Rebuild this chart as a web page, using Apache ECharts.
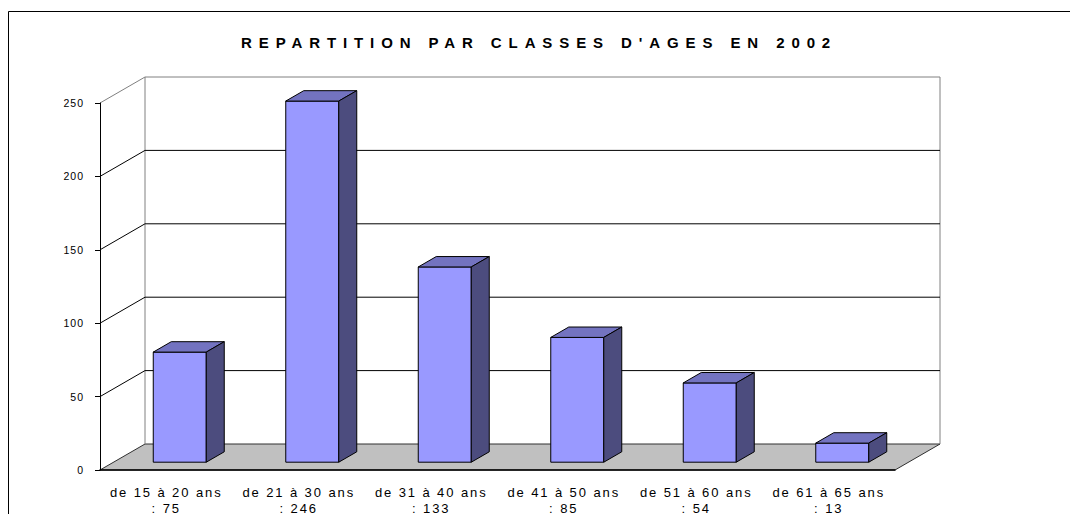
<!DOCTYPE html>
<html>
<head>
  <meta charset="utf-8">
  <title>Repartition par classes d'ages en 2002</title>
  <script src="https://cdn.jsdelivr.net/npm/echarts@6/dist/echarts.min.js"></script>
  <style>
    html, body { margin: 0; padding: 0; background: #fff; }
  </style>
</head>
<body>
  <div id="chart" style="width: 1070px; height: 514px;"></div>

  <script>
    // données
    const titleText = "REPARTITION PAR CLASSES D'AGES EN 2002";
    const categories = ['de 15 à 20 ans', 'de 21 à 30 ans', 'de 31 à 40 ans', 'de 41 à 50 ans', 'de 51 à 60 ans', 'de 61 à 65 ans'];
    const values = [75, 246, 133, 85, 54, 13];
    const yTicks = [0, 50, 100, 150, 200, 250];

    // profondeur de l'effet 3D (pixels)
    const DX = 45, DY = 26;
    const font = '"Liberation Sans", Arial, sans-serif';

    const chart = echarts.init(document.getElementById('chart'), null, { renderer: 'svg' });

    // murs + sol + quadrillage
    function renderWall(params, api) {
      const cs = params.coordSys;
      const v = api.value(1);
      const y = api.coord([0, v])[1];
      const x0 = cs.x, x1 = cs.x + cs.width;
      const children = [];
      if (v === 0) {
        const yt = api.coord([0, yTicks[yTicks.length - 1]])[1];
        children.push({
          type: 'polygon',
          shape: { points: [[x0, y], [x1, y], [x1 + DX, y - DY], [x0 + DX, y - DY]] },
          style: { fill: '#c0c0c0', stroke: '#303030', lineWidth: 1 }
        });
        children.push({ type: 'line', shape: { x1: x0 + DX, y1: y - DY, x2: x0 + DX, y2: yt - DY }, style: { stroke: '#808080', lineWidth: 1 } });
        children.push({ type: 'line', shape: { x1: x1 + DX, y1: y - DY, x2: x1 + DX, y2: yt - DY }, style: { stroke: '#808080', lineWidth: 1 } });
      } else {
        const col = v === yTicks[yTicks.length - 1] ? '#808080' : '#000';
        children.push({ type: 'line', shape: { x1: x0, y1: y, x2: x0 + DX, y2: y - DY }, style: { stroke: col, lineWidth: 1 } });
        children.push({ type: 'line', shape: { x1: x0 + DX, y1: y - DY, x2: x1 + DX, y2: y - DY }, style: { stroke: col, lineWidth: 1 } });
      }
      return { type: 'group', children: children };
    }

    // barres 3D
    function renderBar(params, api) {
      const i = api.value(0);
      const base = api.coord([i, 0]);
      const top = api.coord([i, api.value(1)]);
      const band = api.size([1, 0])[0];
      const w = band * 0.4;
      const ox = DX * 0.3, oy = DY * 0.3;   // recul de la face avant
      const dx = DX * 0.4, dy = DY * 0.4;   // épaisseur de la barre
      const l = base[0] + ox - w / 2, r = l + w;
      const b = base[1] - oy, t = top[1] - oy;
      const edge = { stroke: '#000', lineWidth: 1 };
      return {
        type: 'group',
        children: [
          { type: 'polygon', shape: { points: [[l, b], [r, b], [r, t], [l, t]] }, style: Object.assign({ fill: '#9999ff' }, edge) },
          { type: 'polygon', shape: { points: [[l, t], [r, t], [r + dx, t - dy], [l + dx, t - dy]] }, style: Object.assign({ fill: '#7373c0' }, edge) },
          { type: 'polygon', shape: { points: [[r, b], [r + dx, b - dy], [r + dx, t - dy], [r, t]] }, style: Object.assign({ fill: '#4c4c7e' }, edge) }
        ]
      };
    }

    chart.setOption({
      animation: false,
      backgroundColor: '#fff',
      title: {
        text: titleText,
        left: 241,
        top: 35,
        padding: 0,
        textStyle: { fontFamily: font, fontSize: 15, fontWeight: 'bold', color: '#000' }
      },
      graphic: [{
        type: 'rect',
        shape: { x: 8.5, y: 11.5, width: 1100, height: 600 },
        style: { fill: 'none', stroke: '#000', lineWidth: 1 },
        z: 0
      }],
      grid: { left: 100, right: 175, top: 103, bottom: 44, containLabel: false, outerBoundsMode: 'none' },
      xAxis: {
        type: 'category',
        data: categories,
        z: 5,
        axisLine: { lineStyle: { color: '#000', width: 1.5 } },
        axisTick: { length: 5, interval: 0, lineStyle: { color: '#000' } },
        axisLabel: {
          interval: 0,
          margin: 14,
          fontFamily: font,
          fontSize: 13,
          lineHeight: 16,
          color: '#000',
          formatter: function (v, idx) { return v + '\n: ' + values[idx]; }
        }
      },
      yAxis: {
        type: 'value',
        min: 0,
        max: 250,
        interval: 50,
        z: 5,
        axisLine: { show: true, lineStyle: { color: '#000' } },
        axisTick: { show: true, length: 5, lineStyle: { color: '#000' } },
        axisLabel: { margin: 16, fontFamily: font, fontSize: 10.5, color: '#000' },
        splitLine: { show: false }
      },
      series: [
        {
          type: 'custom',
          z: 1,
          silent: true,
          renderItem: renderWall,
          data: yTicks.map(function (v) { return [0, v]; })
        },
        {
          type: 'custom',
          z: 2,
          renderItem: renderBar,
          data: values.map(function (v, i) { return [i, v]; })
        }
      ]
    });

    // espacement des lettres comme dans l'original
    function spaceLetters() {
      document.querySelectorAll('#chart text').forEach(function (t) {
        const s = t.textContent;
        const ls = s === titleText ? 6.9 : (/^\d+$/.test(s) ? 1 : 1.9);
        t.style.letterSpacing = ls + 'px';
      });
    }
    spaceLetters();
    chart.on('finished', spaceLetters);
    setTimeout(spaceLetters, 0);
  </script>
</body>
</html>
